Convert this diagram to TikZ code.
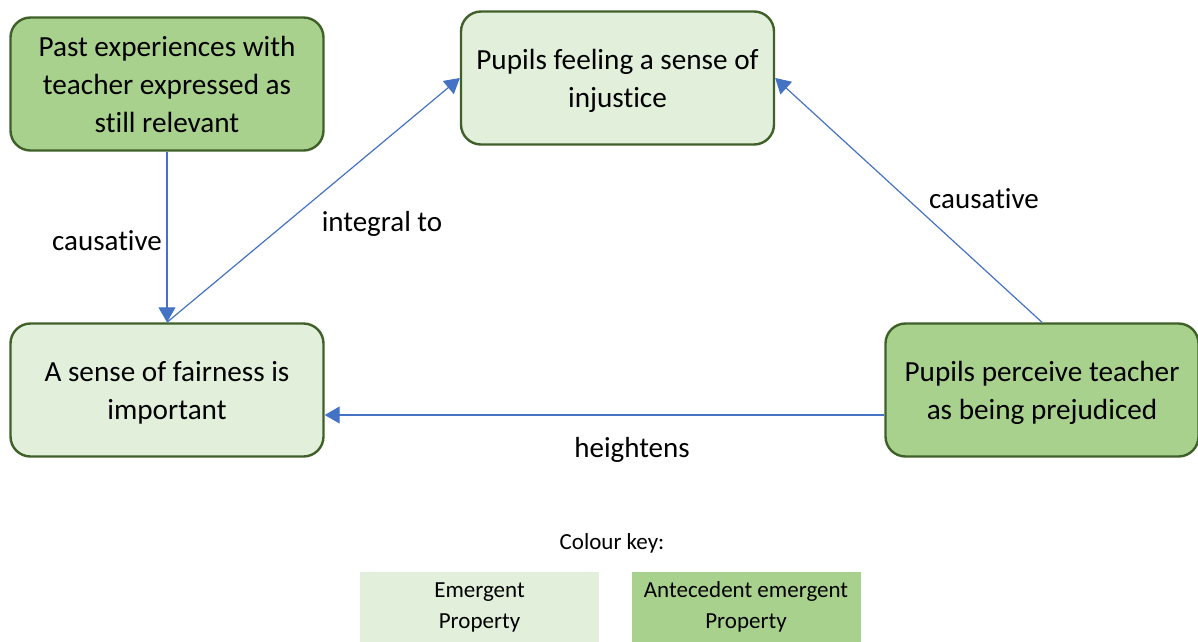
\documentclass[tikz,border=0pt]{standalone}
\usepackage{fontspec}
\setmainfont{Carlito}[Ligatures=NoCommon]
\usetikzlibrary{arrows.meta,calc}
\definecolor{antefill}{HTML}{A9D18E}
\definecolor{emerfill}{HTML}{E2EFDA}
\definecolor{boxline}{HTML}{3F6129}
\definecolor{linkblue}{HTML}{4472C4}
\tikzset{
  propbox/.style={draw=boxline, line width=2.4pt, rounded corners=20pt,
    minimum width=313pt, minimum height=133pt, align=center,
    font=\fontsize{29.2}{38}\selectfont, inner sep=0pt},
  emergent/.style={propbox, fill=emerfill},
  antecedent/.style={propbox, fill=antefill},
  link/.style={draw=linkblue, line width=1.2pt,
    -{Triangle[width=17pt,length=15pt]}},
  linklabel/.style={font=\fontsize{29}{34}\selectfont, inner sep=0pt},
  keybox/.style={minimum height=70pt, align=center, inner sep=0pt,
    font=\fontsize{23}{31}\selectfont},
}
\begin{document}
\begin{tikzpicture}[x=1pt,y=-1pt]
  \useasboundingbox (0,0) rectangle (1198,641);

  % concept boxes
  \node[antecedent] (past) at (167,84) {Past experiences with\\teacher expressed as\\still relevant};
  \node[emergent] (injustice) at (617.5,78) {\strut Pupils feeling a sense of\\injustice};
  \node[emergent] (fairness) at (167,390) {\strut A sense of fairness is\\important};
  \node[antecedent] (prejudice) at (1042,390) {\strut Pupils perceive teacher\\as being prejudiced};

  % relations between them
  \draw[link] (past.south) -- (fairness.north);
  \draw[link] (fairness.north) -- (injustice.west);
  \draw[link] (prejudice.north) -- (injustice.east);
  \coordinate (hstart) at ($(prejudice.west)+(0,25)$);
  \draw[link] (hstart) -- (fairness.east |- hstart);

  % relation labels
  \node[linklabel] (lcaus1) at (107,241) {causative};
  \node[linklabel] (lint) at (382,224) {integral to};
  \node[linklabel] (lcaus2) at (984,199) {causative};
  \node[linklabel] (lheight) at (632,450) {heightens};

  % colour key
  \node[font=\fontsize{23}{28}\selectfont, inner sep=0pt] (keytitle) at (612,543) {Colour key:};
  \node[keybox, fill=emerfill, minimum width=239pt] (keyemer) at (479.5,607) {Emergent\\Property};
  \node[keybox, fill=antefill, minimum width=229pt] (keyante) at (746,607) {Antecedent emergent\\Property};
\end{tikzpicture}
\end{document}
